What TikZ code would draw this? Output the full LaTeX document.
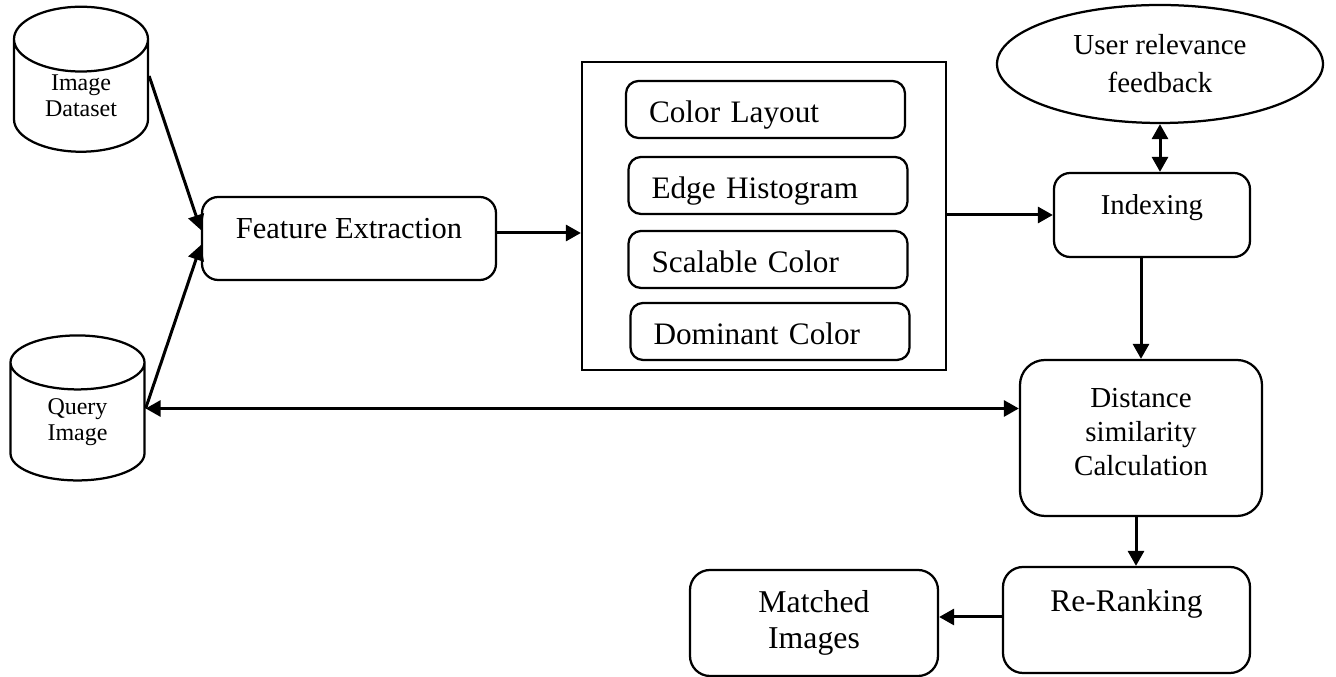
\documentclass[tikz,border=0pt]{standalone}
\usepackage{fontspec}
\setmainfont{Liberation Serif}
\usetikzlibrary{arrows.meta,shapes.geometric}

\tikzset{
  box/.style={draw, line width=0.9pt, rounded corners=#1, align=center, inner sep=0pt},
  box/.default=6.5pt,
  desc/.style={box=5pt, align=left, inner xsep=9.2pt, text width=93.2pt, minimum height=22.8pt,
    text height=12pt, text depth=1.2pt, font=\fontsize{12.5}{14}\selectfont},
  store/.style={draw, line width=0.9pt, cylinder, shape border rotate=90, aspect=0.9, inner sep=0pt,
    align=center, minimum width=53.6pt, minimum height=58pt, font=\fontsize{9.6}{10.4}\selectfont},
  lift/.style={text height=9pt, text depth=#1},
  arr/.style={line width=1.2pt, -{Triangle[length=6pt,width=6.4pt]}},
  dbl/.style={line width=1.2pt, {Triangle[length=6pt,width=6.4pt]}-{Triangle[length=6pt,width=6.4pt]}},
}

\begin{document}
\begin{tikzpicture}[x=0.4pt, y=-0.4pt]
\useasboundingbox (0,0) rectangle (1336,677);

% ── Inputs ──
\node[store] (ds) at (81,96) {Image\\Dataset};
\node[store] (qi) at (77.5,422) {Query\\Image};
\coordinate (dsout) at ([yshift=8pt]ds.east);
\coordinate (qiout) at ([yshift=5.4pt]qi.east);

\node[box, lift=9pt, minimum width=117.6pt, minimum height=33.2pt,
  font=\fontsize{12.2}{14}\selectfont] (fe) at (349,238.5) {Feature Extraction};

% ── Descriptors ──
\node[draw, line width=0.9pt, minimum width=145.6pt, minimum height=123.2pt, inner sep=0pt] (desc) at (764,216) {};
\node[desc] (cl) at (765.5,109.5) {Color Layout};
\node[desc] (eh) at (768,185.5) {Edge Histogram};
\node[desc] (sc) at (768,259.5) {Scalable Color};
\node[desc] (dc) at (770,331.5) {Dominant Color};

% ── Retrieval ──
\node[draw, ellipse, line width=0.9pt, minimum width=130.4pt, minimum height=47.2pt, inner sep=0pt,
  align=center, font=\fontsize{11.6}{15.2}\selectfont] (urf) at (1160,64) {User relevance\\feedback};
\node[box, lift=9pt, minimum width=78.4pt, minimum height=33.6pt,
  font=\fontsize{11.5}{13.6}\selectfont] (idx) at (1152,215) {Indexing};
\node[box=10pt, minimum width=96.8pt, minimum height=62.4pt, text depth=5pt,
  font=\fontsize{11.6}{13.6}\selectfont] (dsc) at (1141,438) {Distance\\similarity\\Calculation};
\node[box=8pt, lift=15.4pt, minimum width=98.8pt, minimum height=42.4pt,
  font=\fontsize{12.6}{14.4}\selectfont] (rr) at (1126.5,620) {Re-Ranking};
\node[box=8pt, minimum width=99.2pt, minimum height=42.4pt,
  font=\fontsize{12.7}{14.4}\selectfont] (mi) at (814,623) {Matched\\Images};

% ── Flow ──
\draw[arr] (dsout) -- ([yshift=3.4pt]fe.west);
\draw[arr] (qiout) -- ([yshift=-2.6pt]fe.west);
\draw[arr] ([yshift=2.2pt]fe.east) -- ([yshift=2.2pt]fe.east -| desc.west);
\draw[arr] (desc.east |- idx.west) -- (idx.west);
\draw[dbl] (urf.south) -- (urf.south |- idx.north);
\draw[arr] (dsc.north |- idx.south) -- (dsc.north);
\draw[dbl] (qiout) -- (qiout -| dsc.west);
\draw[arr] ([xshift=-2pt]dsc.south) -- ([xshift=-2pt]dsc.south |- rr.north);
\draw[arr] ([yshift=1.2pt]rr.west) -- ([yshift=1.2pt]rr.west -| mi.east);

\end{tikzpicture}
\end{document}
